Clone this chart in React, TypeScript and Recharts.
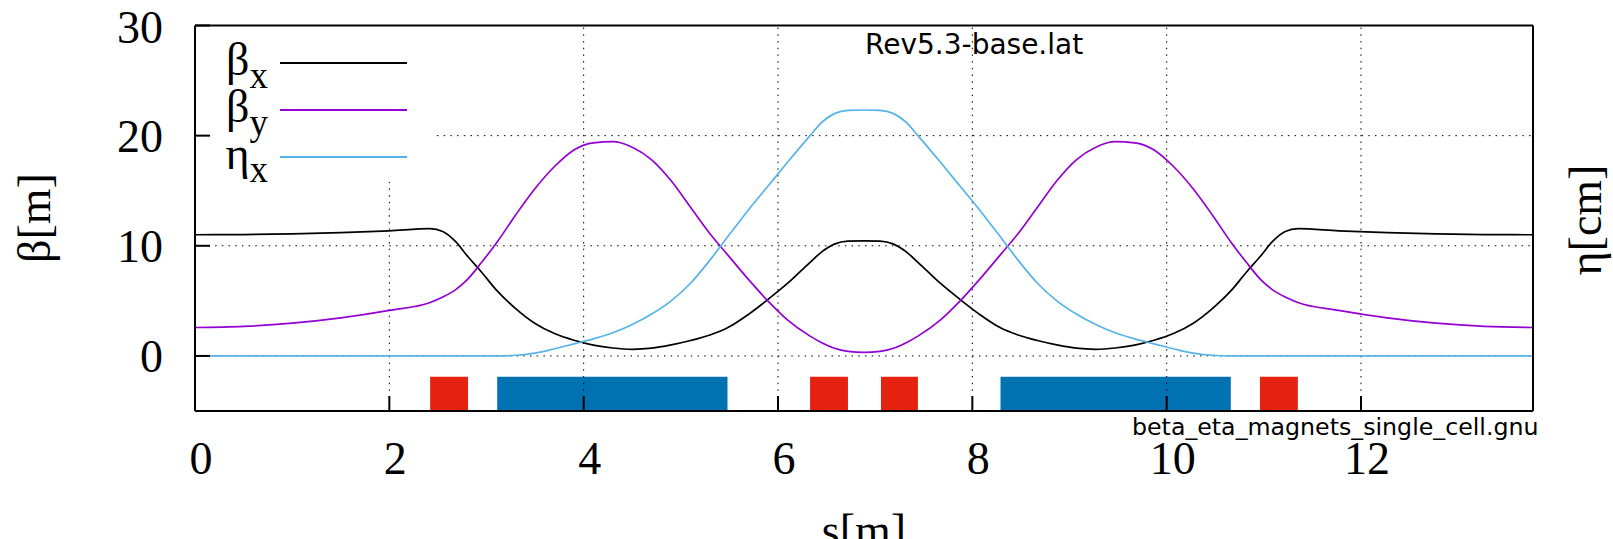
import React from 'react';
import {
  LineChart,
  Line,
  XAxis,
  YAxis,
  ReferenceLine,
  ReferenceArea,
  Legend,
  Customized,
} from 'recharts';

// position along the cell [m]
const S = [
  0, 0.5, 1.0, 1.5, 2.0, 2.42, 2.55, 2.68, 2.81, 2.95, 3.11, 3.3, 3.5, 3.7, 3.9, 4.1,
  4.3, 4.5, 4.7, 4.9, 5.1, 5.3, 5.48, 5.7, 5.9, 6.1, 6.33, 6.45, 6.58, 6.72, 6.885,
  7.05, 7.19, 7.32, 7.44, 7.67, 7.87, 8.07, 8.29, 8.47, 8.67, 8.87, 9.07, 9.27, 9.47,
  9.67, 9.87, 10.07, 10.27, 10.47, 10.66, 10.82, 10.96, 11.09, 11.22, 11.35, 11.77,
  12.27, 12.77, 13.27, 13.77,
];

const BETA_X = [
  11.0, 11.02, 11.09, 11.2, 11.36, 11.55, 11.3, 10.4, 9.0, 7.6, 5.9, 4.3, 2.95, 2.03,
  1.42, 0.98, 0.72, 0.6, 0.7, 1.0, 1.4, 1.9, 2.55, 3.8, 5.15, 6.6, 8.5, 9.45, 10.15,
  10.42, 10.45,
  10.42, 10.15, 9.45, 8.5, 6.6, 5.15, 3.8, 2.55, 1.9, 1.4, 1.0, 0.7, 0.6, 0.72, 0.98,
  1.42, 2.03, 2.95, 4.3, 5.9, 7.6, 9.0, 10.4, 11.3, 11.55, 11.36, 11.2, 11.09, 11.02,
  11.0,
];

const BETA_Y = [
  2.58, 2.68, 2.97, 3.45, 4.13, 4.85, 5.35, 6.0, 7.0, 8.5, 10.35, 12.8, 15.2, 17.2,
  18.7, 19.35, 19.45, 18.95, 17.8, 15.9, 13.5, 11.1, 9.2, 6.9, 4.95, 3.25, 1.8, 1.2,
  0.7, 0.42, 0.33,
  0.42, 0.7, 1.2, 1.8, 3.25, 4.95, 6.9, 9.2, 11.1, 13.5, 15.9, 17.8, 18.95, 19.45,
  19.35, 18.7, 17.2, 15.2, 12.8, 10.35, 8.5, 7.0, 6.0, 5.35, 4.85, 4.13, 3.45, 2.97,
  2.68, 2.58,
];

const ETA_X = [
  0, 0, 0, 0, 0, 0, 0, 0, 0, 0, 0, 0.06, 0.25, 0.65, 1.1, 1.55, 2.1, 2.85, 3.8, 5.0,
  6.6, 8.7, 10.8, 13.3, 15.45, 17.6, 20.0, 21.2, 22.0, 22.3, 22.33,
  22.3, 22.0, 21.2, 20.0, 17.6, 15.45, 13.3, 10.8, 8.7, 6.6, 5.0, 3.8, 2.85, 2.1, 1.55,
  1.1, 0.65, 0.25, 0.06, 0, 0, 0, 0, 0, 0, 0, 0, 0, 0, 0,
];

// magnets: quadrupoles (red) and bends (blue)
const QUAD_START = [2.42, 6.33, 7.06, 10.96];
const QUAD_END = [2.81, 6.72, 7.44, 11.35];
const BEND_START = [3.11, 8.29];
const BEND_END = [5.48, 10.66];
const MAGNET_BOTTOM = -5;
const MAGNET_TOP = -1.9;

const S_MAX = 13.77;
const X_TICKS = [0, 2, 4, 6, 8, 10, 12];
const Y_TICKS = [0, 10, 20, 30];
const GRID_X = [2, 4, 6, 8, 10, 12];
const GRID_Y = [0, 10, 20];

const SERIES_NAMES = ['βx', 'βy', 'ηx'];

const data = S.map((s, i) => ({
  s,
  bx: BETA_X[i],
  by: BETA_Y[i],
  eta: ETA_X[i],
}));

const SERIF = 'Liberation Serif, serif';
const SANS = 'DejaVu Sans, sans-serif';
const GRID = { stroke: '#000', strokeWidth: 1, strokeDasharray: '1.5 5.2' };
const FRAME = { stroke: '#000', strokeWidth: 2 };

const renderLegend = (props: any) => {
  const payload = props.payload || [];
  return (
    <svg width={450} height={190} style={{ display: 'block' }}>
      {payload.map((entry: any, i: number) => {
        const name = String(entry.value);
        const base = 75 + i * 47;
        return (
          <g key={name}>
            <text x={268} y={base} textAnchor="end" fontFamily={SERIF} fontSize={46} fill="#000">
              {name[0]}
              <tspan dy={13} fontSize={37}>
                {name.slice(1)}
              </tspan>
            </text>
            <line x1={280} x2={407} y1={base - 12} y2={base - 12} stroke={entry.color} strokeWidth={2} />
          </g>
        );
      })}
    </svg>
  );
};

const Titles = () => (
  <g>
    <text x={34} y={218} transform="rotate(-90 34 218)" textAnchor="middle" dominantBaseline="central" fontFamily={SERIF} fontSize={46} fill="#000">
      β[m]
    </text>
    <text x={1585} y={220} transform="rotate(-90 1585 220)" textAnchor="middle" dominantBaseline="central" fontFamily={SERIF} fontSize={46} fill="#000">
      η[cm]
    </text>
    <text x={864} y={546} textAnchor="middle" fontFamily={SERIF} fontSize={46} fill="#000">
      s[m]
    </text>
    <text x={865} y={54} fontFamily={SANS} fontSize={28} fill="#000">
      Rev5.3-base.lat
    </text>
    <text x={1132} y={435} fontFamily={SANS} fontSize={23.7} fill="#000">
      beta_eta_magnets_single_cell.gnu
    </text>
  </g>
);

export default function App() {
  return (
    <div style={{ position: 'absolute', left: 0, top: 0, width: 1613, height: 539, background: '#fff', fontFamily: SERIF }}>
      <LineChart width={1613} height={539} data={data} margin={{ top: 24.5, right: 0, bottom: 28, left: 75 }}>
        <XAxis
          dataKey="s"
          type="number"
          domain={[0, S_MAX]}
          ticks={X_TICKS}
          height={100}
          axisLine={FRAME}
          tickLine={FRAME}
          tickSize={-15}
          tickMargin={45}
          tick={{ fill: '#000', fontSize: 46, fontFamily: SERIF, dx: 6 }}
        />
        <XAxis
          xAxisId="top"
          orientation="top"
          dataKey="s"
          type="number"
          domain={[0, S_MAX]}
          ticks={X_TICKS}
          height={1}
          axisLine={FRAME}
          tickLine={FRAME}
          tickSize={-15}
          tick={false}
        />
        <YAxis
          type="number"
          domain={[-5, 30]}
          ticks={Y_TICKS}
          width={120}
          axisLine={FRAME}
          tickLine={FRAME}
          tickSize={-15}
          tickMargin={47}
          tick={{ fill: '#000', fontSize: 46, fontFamily: SERIF }}
        />
        <YAxis
          yAxisId="right"
          orientation="right"
          type="number"
          domain={[-5, 30]}
          ticks={Y_TICKS}
          width={80}
          axisLine={FRAME}
          tickLine={FRAME}
          tickSize={-15}
          tick={false}
        />

        {GRID_X.map((gx) => (
          <ReferenceLine
            key={`gx-${gx}`}
            segment={[{ x: gx, y: -5 }, { x: gx, y: gx === 2 ? 15.8 : 30 }]}
            {...GRID}
          />
        ))}
        {GRID_Y.map((gy) => (
          <ReferenceLine
            key={`gy-${gy}`}
            segment={[{ x: gy === 20 ? 2.49 : 0, y: gy }, { x: S_MAX, y: gy }]}
            {...GRID}
          />
        ))}

        {QUAD_START.map((q, i) => (
          <ReferenceArea key={`q-${i}`} x1={q} x2={QUAD_END[i]} y1={MAGNET_BOTTOM} y2={MAGNET_TOP} fill="#e52210" fillOpacity={1} stroke="none" />
        ))}
        {BEND_START.map((b, i) => (
          <ReferenceArea key={`b-${i}`} x1={b} x2={BEND_END[i]} y1={MAGNET_BOTTOM} y2={MAGNET_TOP} fill="#0072b2" fillOpacity={1} stroke="none" />
        ))}

        <Line name={SERIES_NAMES[0]} type="monotone" dataKey="bx" stroke="#000000" strokeWidth={1.7} dot={false} activeDot={false} isAnimationActive={false} />
        <Line name={SERIES_NAMES[1]} type="monotone" dataKey="by" stroke="#9400d3" strokeWidth={1.7} dot={false} activeDot={false} isAnimationActive={false} />
        <Line name={SERIES_NAMES[2]} yAxisId="right" type="monotone" dataKey="eta" stroke="#56b4e9" strokeWidth={1.7} dot={false} activeDot={false} isAnimationActive={false} />

        <Legend
          layout="vertical"
          align="center"
          verticalAlign="middle"
          content={renderLegend}
          wrapperStyle={{ left: 0, top: 0, width: 450, height: 190 }}
        />
        <Customized component={Titles} />
      </LineChart>
    </div>
  );
}
